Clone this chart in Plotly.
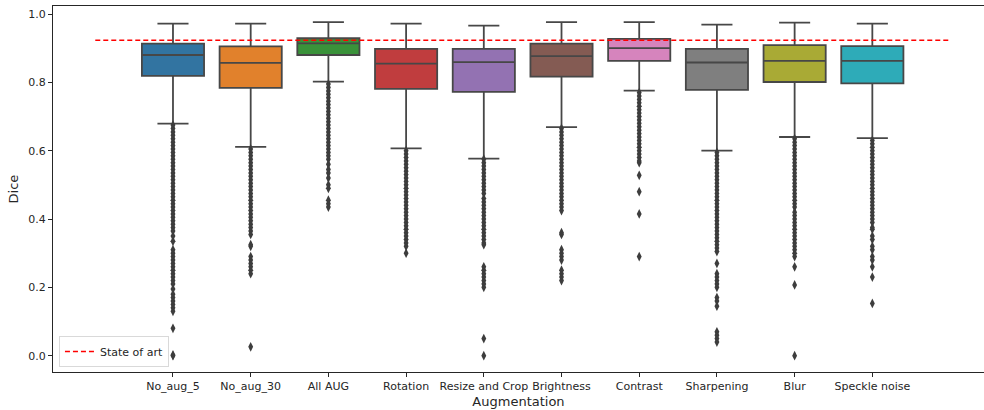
import plotly.graph_objects as go

categories = ["No_aug_5", "No_aug_30", "All AUG", "Rotation", "Resize and Crop",
              "Brightness", "Contrast", "Sharpening", "Blur", "Speckle noise"]
q1 = [0.819, 0.784, 0.880, 0.781, 0.772, 0.817, 0.863, 0.778, 0.801, 0.797]
median = [0.880, 0.857, 0.914, 0.855, 0.859, 0.877, 0.900, 0.858, 0.863, 0.863]
q3 = [0.913, 0.905, 0.929, 0.898, 0.898, 0.913, 0.927, 0.898, 0.909, 0.906]
lower_whisker = [0.679, 0.611, 0.802, 0.607, 0.577, 0.669, 0.776, 0.600, 0.640, 0.637]
upper_whisker = [0.972, 0.972, 0.976, 0.972, 0.966, 0.976, 0.976, 0.969, 0.975, 0.972]
state_of_art = 0.923

outliers_no_aug_5 = [0.675, 0.665, 0.655, 0.645, 0.635, 0.625, 0.615, 0.605, 0.595, 0.585,
                     0.575, 0.565, 0.555, 0.545, 0.535, 0.525, 0.515, 0.505, 0.495, 0.485,
                     0.475, 0.465, 0.455, 0.445, 0.435, 0.425, 0.415, 0.405, 0.395, 0.385,
                     0.375, 0.365, 0.35, 0.335, 0.31, 0.30, 0.29, 0.28, 0.27, 0.26, 0.25,
                     0.24, 0.23, 0.22, 0.21, 0.195, 0.18, 0.17, 0.16, 0.15, 0.14, 0.13,
                     0.08, 0.002, 0.0]
outliers_no_aug_30 = [0.605, 0.595, 0.585, 0.575, 0.565, 0.555, 0.545, 0.535, 0.525, 0.515,
                      0.505, 0.495, 0.485, 0.475, 0.465, 0.455, 0.445, 0.435, 0.425, 0.415,
                      0.405, 0.395, 0.385, 0.375, 0.365, 0.355, 0.325, 0.32, 0.29, 0.28,
                      0.27, 0.26, 0.25, 0.24, 0.026]
outliers_all_aug = [0.795, 0.785, 0.775, 0.765, 0.755, 0.745, 0.735, 0.725, 0.715, 0.705,
                    0.695, 0.685, 0.675, 0.665, 0.655, 0.645, 0.635, 0.625, 0.615, 0.605,
                    0.595, 0.585, 0.575, 0.56, 0.545, 0.535, 0.52, 0.50, 0.49, 0.455,
                    0.445, 0.435]
outliers_rotation = [0.60, 0.59, 0.58, 0.57, 0.56, 0.55, 0.54, 0.53, 0.52, 0.51, 0.50,
                     0.49, 0.48, 0.47, 0.46, 0.45, 0.44, 0.43, 0.42, 0.41, 0.40, 0.39,
                     0.38, 0.37, 0.36, 0.35, 0.34, 0.33, 0.32, 0.30]
outliers_resize_crop = [0.575, 0.565, 0.555, 0.545, 0.535, 0.525, 0.515, 0.505, 0.495, 0.485,
                        0.475, 0.46, 0.45, 0.44, 0.43, 0.42, 0.41, 0.40, 0.39, 0.38, 0.37,
                        0.36, 0.35, 0.34, 0.33, 0.325, 0.26, 0.25, 0.24, 0.23, 0.22, 0.21,
                        0.20, 0.05, 0.0]
outliers_brightness = [0.665, 0.655, 0.645, 0.635, 0.625, 0.615, 0.605, 0.595, 0.585, 0.575,
                       0.565, 0.555, 0.545, 0.535, 0.525, 0.515, 0.505, 0.495, 0.485, 0.475,
                       0.465, 0.455, 0.445, 0.435, 0.425, 0.36, 0.355, 0.31, 0.30, 0.29,
                       0.28, 0.25, 0.24, 0.23, 0.22]
outliers_contrast = [0.77, 0.76, 0.75, 0.74, 0.73, 0.72, 0.71, 0.70, 0.69, 0.68, 0.67,
                     0.66, 0.65, 0.64, 0.63, 0.62, 0.61, 0.60, 0.59, 0.58, 0.57, 0.565,
                     0.528, 0.48, 0.415, 0.29]
outliers_sharpening = [0.595, 0.585, 0.575, 0.565, 0.555, 0.545, 0.535, 0.525, 0.515, 0.505,
                       0.495, 0.485, 0.475, 0.465, 0.455, 0.445, 0.435, 0.425, 0.415, 0.405,
                       0.395, 0.385, 0.375, 0.365, 0.355, 0.345, 0.335, 0.325, 0.315, 0.305,
                       0.27, 0.24, 0.23, 0.22, 0.21, 0.20, 0.17, 0.16, 0.145, 0.07, 0.06,
                       0.05, 0.04]
outliers_blur = [0.635, 0.625, 0.615, 0.605, 0.595, 0.585, 0.575, 0.565, 0.555, 0.545,
                 0.535, 0.525, 0.515, 0.505, 0.495, 0.485, 0.475, 0.465, 0.455, 0.445,
                 0.435, 0.42, 0.41, 0.40, 0.39, 0.38, 0.37, 0.36, 0.35, 0.34, 0.33,
                 0.32, 0.31, 0.30, 0.29, 0.26, 0.207, 0.0]
outliers_speckle = [0.63, 0.62, 0.61, 0.60, 0.59, 0.58, 0.57, 0.56, 0.55, 0.54, 0.53,
                    0.52, 0.51, 0.50, 0.49, 0.48, 0.47, 0.46, 0.45, 0.44, 0.43, 0.42,
                    0.41, 0.40, 0.39, 0.375, 0.37, 0.35, 0.34, 0.32, 0.31, 0.29, 0.28,
                    0.26, 0.23, 0.153]

outliers = [outliers_no_aug_5, outliers_no_aug_30, outliers_all_aug, outliers_rotation,
            outliers_resize_crop, outliers_brightness, outliers_contrast,
            outliers_sharpening, outliers_blur, outliers_speckle]

colors = ["#3274a1", "#e1812c", "#3a923a", "#c03d3e", "#9372b2",
          "#845b53", "#d684bd", "#7f7f7f", "#a9aa35", "#2eabb8"]
edge = "#474747"

fig = go.Figure()
for i, cat in enumerate(categories):
    fig.add_trace(go.Box(
        x=[i], q1=[q1[i]], median=[median[i]], q3=[q3[i]],
        lowerfence=[lower_whisker[i]], upperfence=[upper_whisker[i]],
        fillcolor=colors[i], line=dict(color=edge, width=1.8),
        width=0.8, whiskerwidth=0.5, boxpoints=False, showlegend=False,
        name=cat,
    ))
for i, vals in enumerate(outliers):
    fig.add_trace(go.Scatter(
        x=[i] * len(vals), y=vals, mode="markers",
        marker=dict(symbol="diamond-tall", size=7, color="#3d3d3d",
                    line=dict(width=0)),
        showlegend=False, hoverinfo="y",
    ))
fig.add_trace(go.Scatter(
    x=[-1, len(categories)], y=[state_of_art, state_of_art], mode="lines",
    line=dict(color="red", width=1.5, dash="5px,3px"), name="State of art",
))

font = dict(family="DejaVu Sans", size=11, color="#262626")
fig.update_layout(
    width=984, height=410,
    margin=dict(l=53, r=0, t=6, b=38),
    plot_bgcolor="white", paper_bgcolor="white",
    font=font,
    xaxis=dict(
        range=[-1.544, 10.437], tickmode="array",
        tickvals=list(range(len(categories))), ticktext=categories,
        showline=True, linecolor="#262626", linewidth=1, mirror=True,
        ticks="outside", ticklen=4, tickcolor="#262626", showgrid=False,
        zeroline=False, title=dict(text="Augmentation", standoff=4),
    ),
    yaxis=dict(
        range=[-0.0477, 1.0234], tickvals=[0, 0.2, 0.4, 0.6, 0.8, 1.0],
        tickformat=".1f", showline=True, linecolor="#262626", linewidth=1,
        ticks="outside", ticklen=4, tickcolor="#262626", showgrid=False,
        zeroline=False, title=dict(text="Dice", standoff=6),
    ),
    legend=dict(x=0.0064, y=0.0137, xanchor="left", yanchor="bottom",
                bordercolor="#d9d9d9", borderwidth=1, bgcolor="white",
                font=font, itemwidth=30),
    hovermode="closest",
)
fig.write_html("out.html", config={"displayModeBar": False},
               post_script="document.body.style.margin='0';document.body.style.overflow='hidden';")
